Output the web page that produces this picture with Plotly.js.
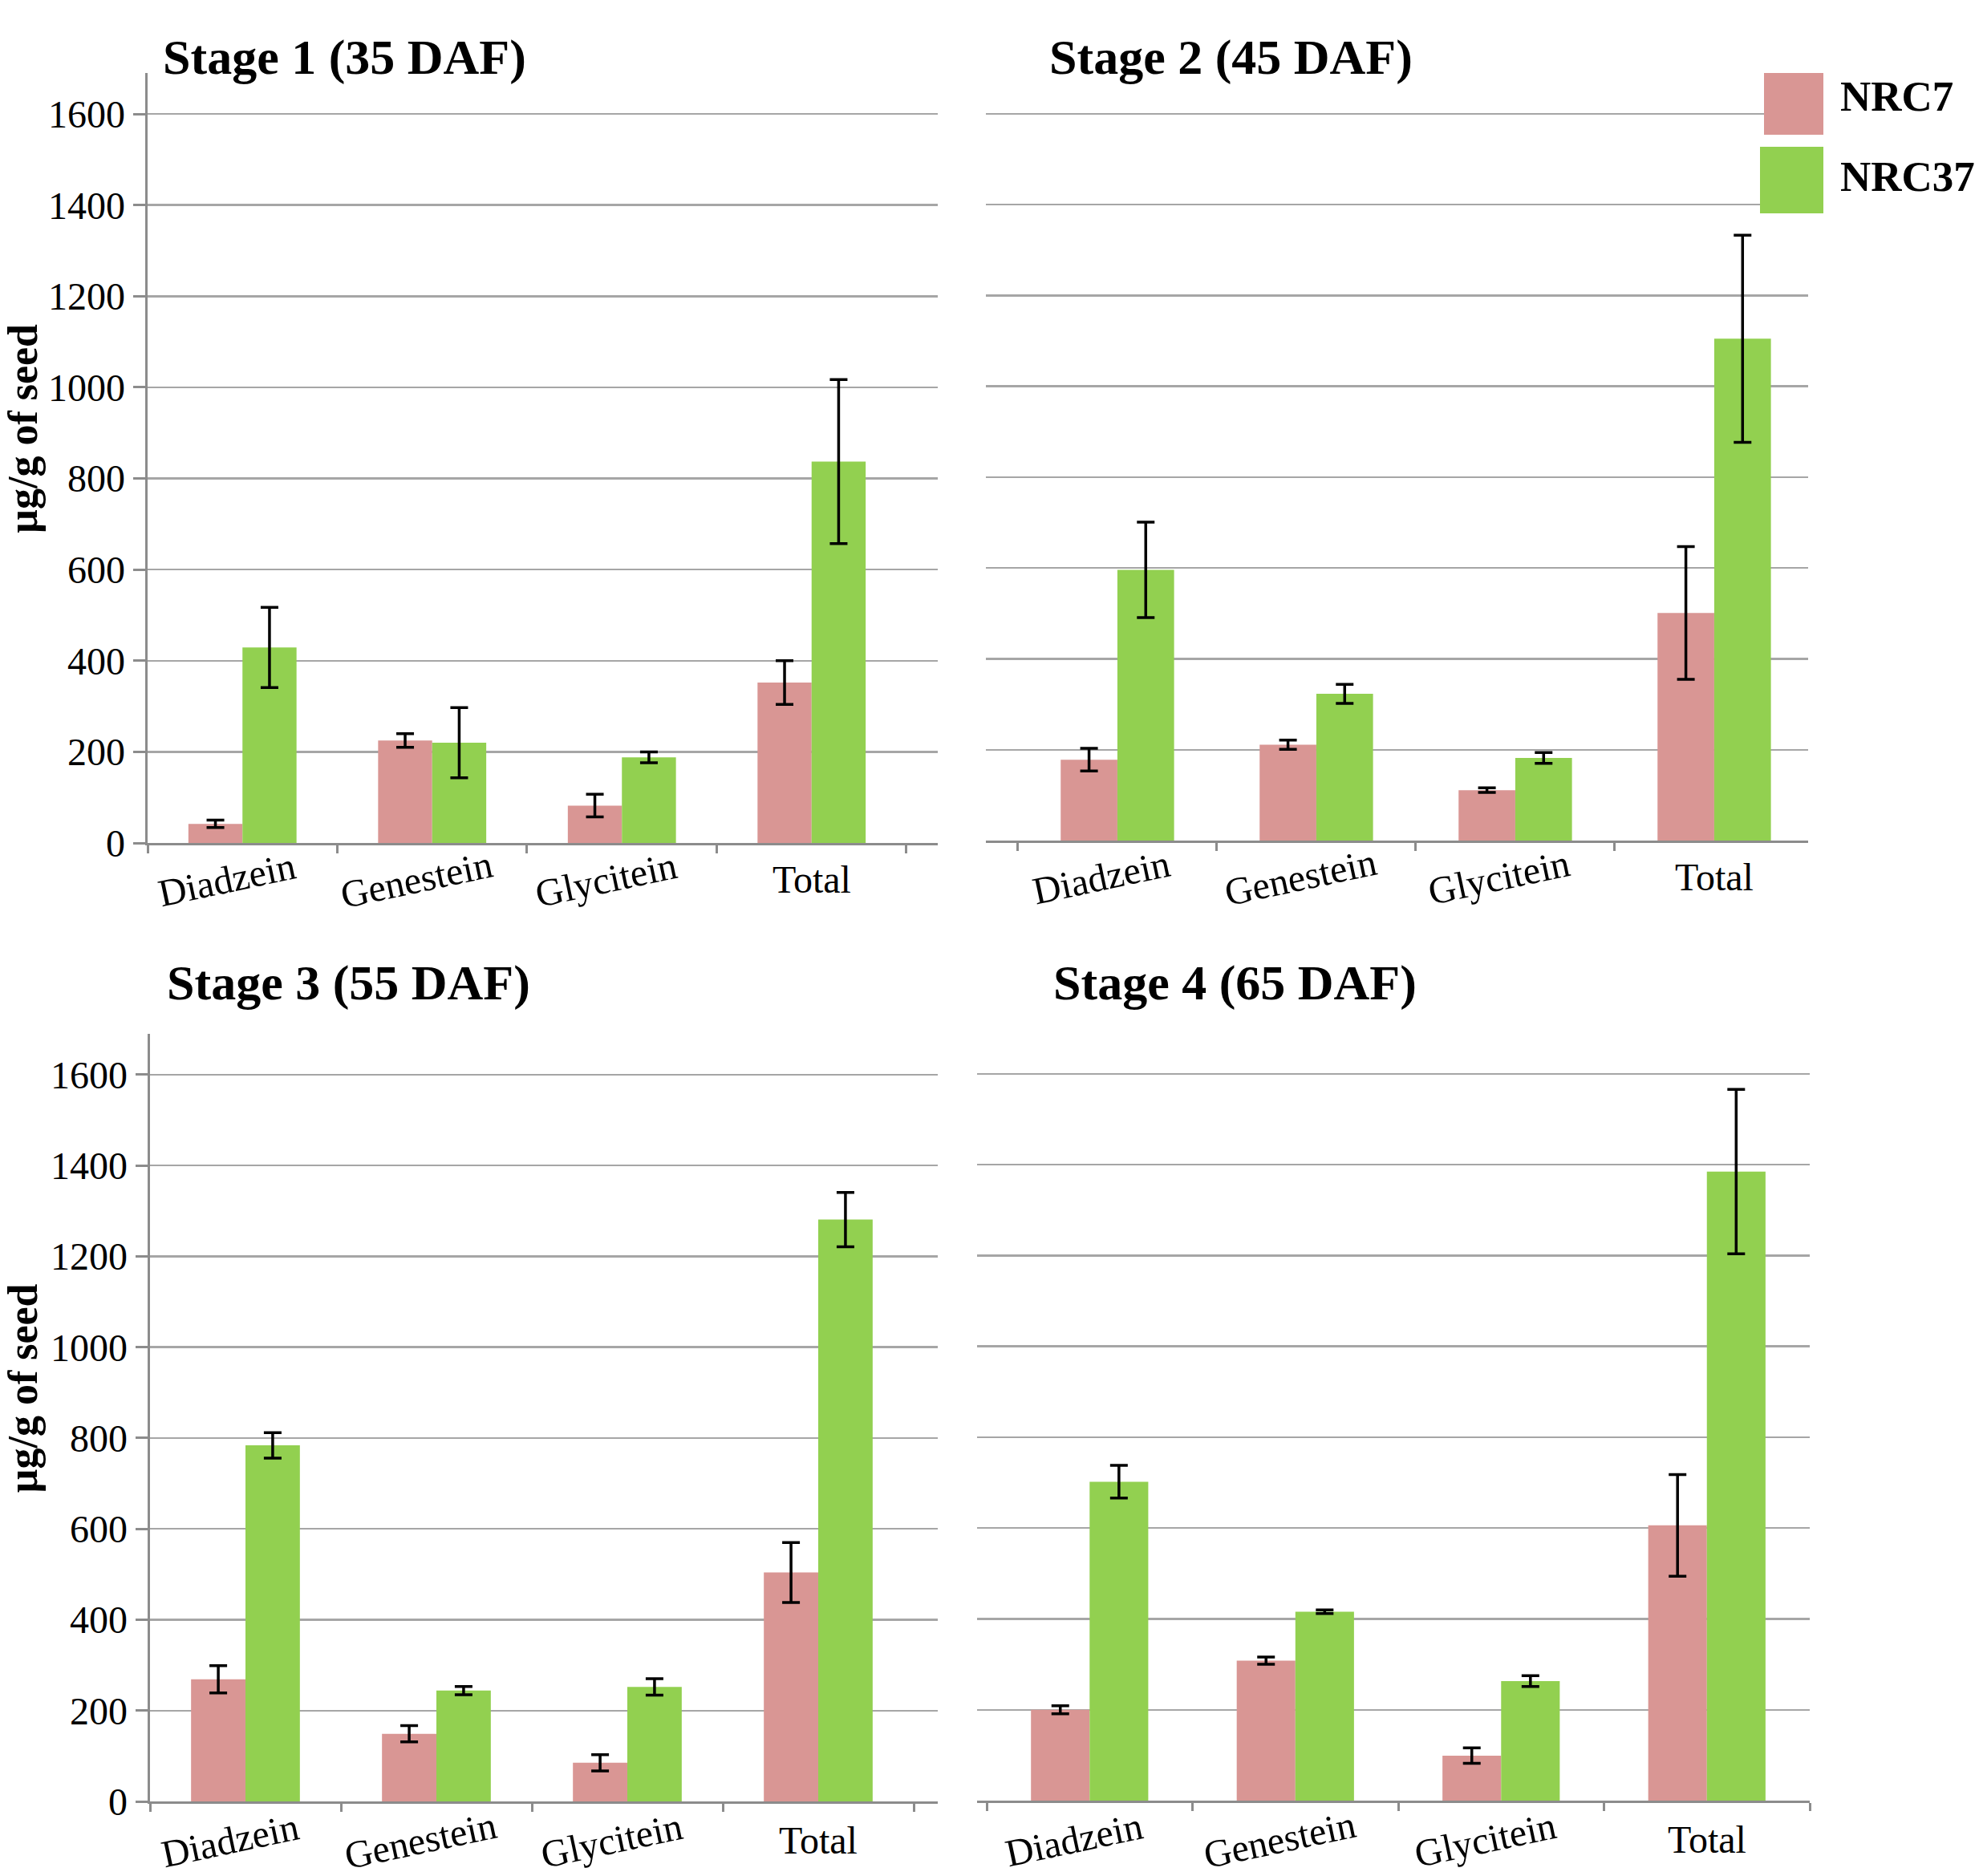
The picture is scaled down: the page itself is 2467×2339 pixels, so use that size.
<!DOCTYPE html>
<html>
<head>
<meta charset="utf-8">
<script src="https://cdn.plot.ly/plotly-3.0.1.min.js"></script>
<style>
  html, body { margin: 0; padding: 0; background: #fff; }
  #chart { width: 2467px; height: 2339px; }
</style>
</head>
<body>
<div id="chart"></div>
<script>
// values (µg/g of seed)
var categories = ['Diadzein', 'Genestein', 'Glycitein', 'Total'];
var stageTitles = ['Stage 1 (35 DAF)', 'Stage 2 (45 DAF)', 'Stage 3 (55 DAF)', 'Stage 4 (65 DAF)'];
var seriesNames = ['NRC7', 'NRC37'];

var nrc7_s1 = [42, 225, 82, 352];
var nrc7_s1_err = [8, 15, 25, 48];
var nrc37_s1 = [429, 220, 188, 837];
var nrc37_s1_err = [88, 77, 12, 180];

var nrc7_s2 = [178, 211, 111, 501];
var nrc7_s2_err = [25, 10, 5, 146];
var nrc37_s2 = [596, 323, 182, 1105];
var nrc37_s2_err = [105, 21, 12, 228];

var nrc7_s3 = [269, 149, 85, 504];
var nrc7_s3_err = [30, 18, 18, 66];
var nrc37_s3 = [784, 244, 252, 1281];
var nrc37_s3_err = [28, 9, 18, 60];

var nrc7_s4 = [200, 308, 99, 606];
var nrc7_s4_err = [9, 8, 17, 112];
var nrc37_s4 = [702, 416, 263, 1385];
var nrc37_s4_err = [36, 4, 12, 181];

var yTicks = [0, 200, 400, 600, 800, 1000, 1200, 1400, 1600];

var W = 2467, H = 2339;
var pink = '#D99694', green = '#92D050';
var serif = 'Liberation Serif, Times New Roman, serif';

var stageData = [
  [nrc7_s1, nrc7_s1_err, nrc37_s1, nrc37_s1_err],
  [nrc7_s2, nrc7_s2_err, nrc37_s2, nrc37_s2_err],
  [nrc7_s3, nrc7_s3_err, nrc37_s3, nrc37_s3_err],
  [nrc7_s4, nrc7_s4_err, nrc37_s4, nrc37_s4_err]
];

// panel placement in pixels: left, right, top, bottom, x range, whether y axis is shown
var panels = [
  {l: 184, r: 1169, t: 91, b: 1051, xr: [-0.5, 3.665], yaxis: true, tx: 201, ty: 72, lab: -45},
  {l: 1229, r: 2254, t: 91, b: 1048, xr: [-0.661, 3.472], yaxis: false, tx: 1306, ty: 72, lab: -45},
  {l: 187, r: 1169, t: 1289, b: 2246, xr: [-0.5, 3.626], yaxis: true, tx: 206, ty: 1225, lab: -48},
  {l: 1218, r: 2256, t: 1288, b: 2245, xr: [-0.547, 3.5], yaxis: false, tx: 1311, ty: 1225, lab: -48}
];

var data = [];
var layout = {
  width: W,
  height: H,
  margin: {l: 0, r: 0, t: 0, b: 0},
  paper_bgcolor: '#fff',
  plot_bgcolor: 'rgba(0,0,0,0)',
  barmode: 'group',
  bargap: 0.43,
  bargroupgap: 0,
  showlegend: false,
  font: {family: serif, color: '#000'},
  annotations: [],
  shapes: []
};

panels.forEach(function (p, i) {
  var n = i + 1;
  var xa = 'x' + (n === 1 ? '' : n), ya = 'y' + (n === 1 ? '' : n);
  var d = stageData[i];
  var errStyle = {color: '#000', thickness: 3.5, width: 11};

  data.push({
    type: 'bar', name: seriesNames[0], x: categories, y: d[0],
    marker: {color: pink},
    error_y: Object.assign({type: 'data', array: d[1], visible: true}, errStyle),
    xaxis: xa, yaxis: ya
  });
  data.push({
    type: 'bar', name: seriesNames[1], x: categories, y: d[2],
    marker: {color: green},
    error_y: Object.assign({type: 'data', array: d[3], visible: true}, errStyle),
    xaxis: xa, yaxis: ya
  });

  var xKey = 'xaxis' + (n === 1 ? '' : n), yKey = 'yaxis' + (n === 1 ? '' : n);
  layout[xKey] = {
    type: 'category',
    domain: [p.l / W, p.r / W],
    range: p.xr,
    anchor: ya,
    showline: true, linecolor: '#8C8C8C', linewidth: 3,
    ticks: 'outside', tickson: 'boundaries', ticklen: 10, tickwidth: 3, tickcolor: '#8C8C8C',
    showticklabels: false, showgrid: false, zeroline: false, fixedrange: true
  };
  layout[yKey] = {
    domain: [1 - p.b / H, 1 - p.t / H],
    range: [0, 1690],
    anchor: xa,
    tickvals: yTicks,
    ticktext: yTicks.map(String),
    showgrid: true, gridcolor: '#A6A6A6', gridwidth: 2.5,
    zeroline: false,
    showline: p.yaxis, linecolor: '#8C8C8C', linewidth: 3.5,
    ticks: p.yaxis ? 'outside' : '', ticklen: 15, tickwidth: 3, tickcolor: '#8C8C8C',
    showticklabels: p.yaxis,
    tickfont: {family: serif, size: 48, color: '#000'},
    fixedrange: true
  };

  // category labels (Total sits level, the others are tilted)
  categories.forEach(function (c) {
    var flat = c === 'Total';
    layout.annotations.push({
      xref: xa, yref: ya, x: c, y: 0,
      text: c, showarrow: false,
      yanchor: 'middle', xanchor: 'center',
      yshift: p.lab, xshift: flat ? 0 : -20,
      textangle: flat ? 0 : -12,
      font: {family: serif, size: 48, color: '#000'}
    });
  });

  // panel title
  layout.annotations.push({
    xref: 'paper', yref: 'paper', x: p.tx / W, y: 1 - p.ty / H,
    xanchor: 'left', yanchor: 'middle', showarrow: false,
    text: '<b>' + stageTitles[i] + '</b>',
    font: {family: serif, size: 62, color: '#000'}
  });

  if (p.yaxis) {
    layout.annotations.push({
      xref: 'paper', yref: 'paper', x: 28 / W, y: 1 - ((p.t + p.b) / 2 - 36) / H,
      xanchor: 'center', yanchor: 'middle', showarrow: false, textangle: -90,
      text: '<b>µg/g of seed</b>',
      font: {family: serif, size: 52, color: '#000'}
    });
  }
});

// legend drawn as large swatches like the original
var legendItems = [
  {name: seriesNames[0], color: pink, x0: 2199, x1: 2273, y0: 91, y1: 168, ty: 120},
  {name: seriesNames[1], color: green, x0: 2194, x1: 2273, y0: 183, y1: 266, ty: 220}
];
legendItems.forEach(function (it) {
  layout.shapes.push({
    type: 'rect', xref: 'paper', yref: 'paper',
    x0: it.x0 / W, x1: it.x1 / W, y0: 1 - it.y1 / H, y1: 1 - it.y0 / H,
    fillcolor: it.color, line: {width: 0}
  });
  layout.annotations.push({
    xref: 'paper', yref: 'paper', x: 2292 / W, y: 1 - it.ty / H,
    xanchor: 'left', yanchor: 'middle', showarrow: false,
    text: '<b>' + it.name + '</b>',
    font: {family: serif, size: 53, color: '#000'}
  });
});

Plotly.newPlot('chart', data, layout, {displayModeBar: false, staticPlot: true});
</script>
</body>
</html>
